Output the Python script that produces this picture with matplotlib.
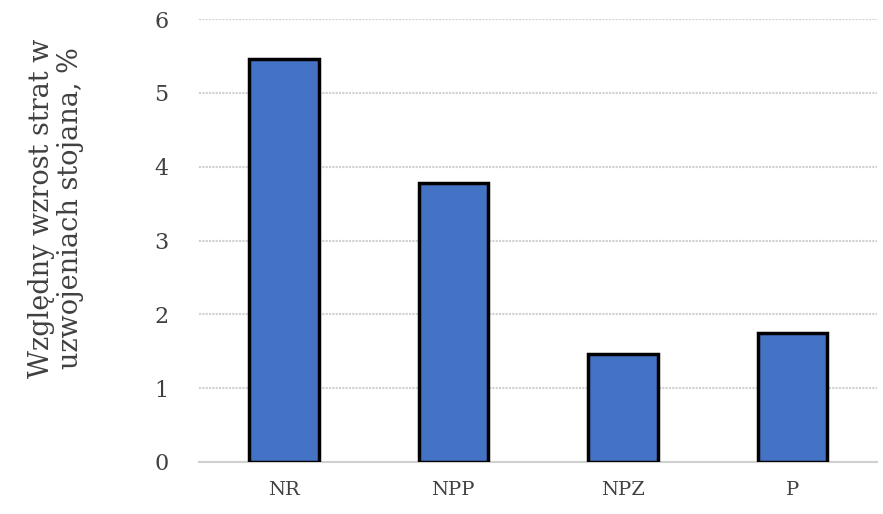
import matplotlib.pyplot as plt

categories = ['NR', 'NPP', 'NPZ', 'P']
values = [5.46, 3.78, 1.46, 1.75]
y_ticks = [0, 1, 2, 3, 4, 5, 6]
y_label = 'Względny wzrost strat w\nuzwojeniach stojana, %'

plt.rcParams['font.family'] = ['DejaVu Serif']

fig = plt.figure(figsize=(8.83, 5.14), dpi=100)
ax = fig.add_axes([0.2254, 0.1012, 0.7678, 0.8618])

x = range(len(categories))
ax.bar(x, values, width=0.41, color='#4472C4', edgecolor='black', linewidth=2.5, zorder=3)

ax.set_xlim(-0.5, len(categories) - 0.5)
ax.set_ylim(0, 6)
ax.set_yticks(y_ticks)
ax.set_xticks(list(x))
ax.set_xticklabels(categories)

ax.grid(axis='y', color='#d0d0d0', linewidth=1.5, linestyle=(0, (1, 0.6)), zorder=0)
for side in ['top', 'right', 'left']:
    ax.spines[side].set_visible(False)
ax.spines['bottom'].set_color('#d0d0d0')
ax.spines['bottom'].set_linewidth(1.5)
ax.spines['bottom'].set_zorder(1)

ax.tick_params(axis='y', length=0, pad=22, labelsize=16, labelcolor='#404040')
ax.tick_params(axis='x', length=0, pad=14, labelsize=14, labelcolor='#404040')

fig.text(56 / 883, 1 - 208 / 514, y_label, rotation=90, ha='center', va='center',
         multialignment='center', fontsize=19.5, color='#404040', linespacing=1.1)

fig.savefig('out.png', dpi=100)
